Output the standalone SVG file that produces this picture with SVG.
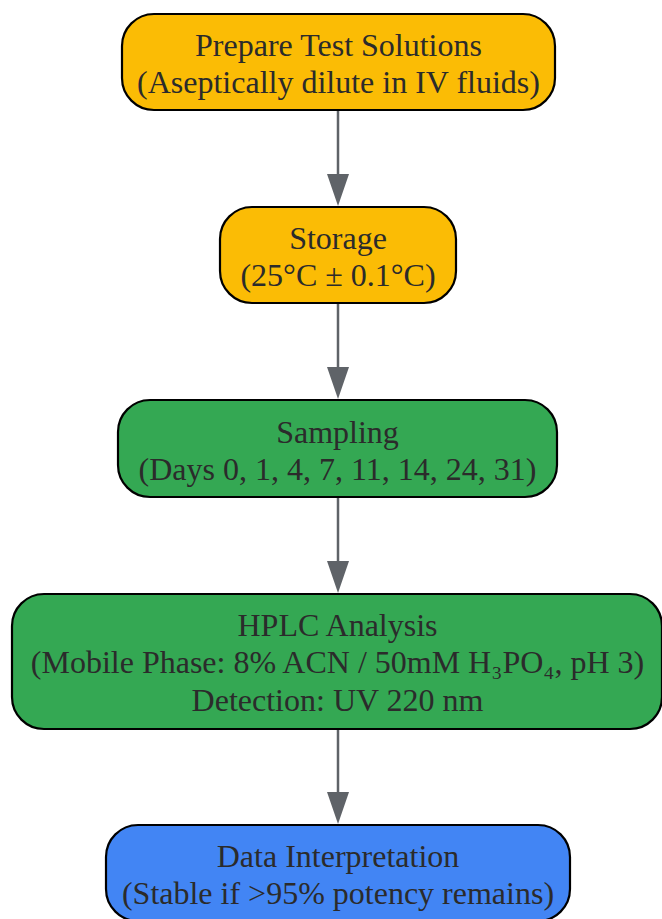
<svg xmlns="http://www.w3.org/2000/svg" width="662" height="919" viewBox="0 0 662 919">
<defs>
<style>
.box{stroke:#000;stroke-width:2.2}
.y{fill:#FBBC05}.g{fill:#34A853}.b{fill:#4285F4}
text{font-family:"Liberation Serif","Times New Roman",serif;font-size:32px;fill:#2b2b2b;text-anchor:middle}
.edge{stroke:#5f6368;stroke-width:2.5;fill:none}
.head{fill:#5f6368}
</style>
</defs>
<rect width="662" height="919" fill="#fff"/>
<g id="connectors">
<line class="edge" x1="338" y1="111" x2="338" y2="176"/><polygon class="head" points="327,174 349,174 338,206"/>
<line class="edge" x1="338" y1="304" x2="338" y2="369"/><polygon class="head" points="327,367 349,367 338,399"/>
<line class="edge" x1="338" y1="498" x2="338" y2="563"/><polygon class="head" points="327,561 349,561 338,593"/>
<line class="edge" x1="338" y1="730" x2="338" y2="794"/><polygon class="head" points="327,792 349,792 338,824"/>
</g>
<g id="prepare">
<rect class="box y" x="122" y="14" width="433" height="96" rx="32"/>
<text x="338.5" y="56">Prepare Test Solutions</text>
<text x="338.5" y="93">(Aseptically dilute in IV fluids)</text>
</g>
<g id="storage">
<rect class="box y" x="220" y="207" width="236" height="96" rx="32"/>
<text x="338" y="249">Storage</text>
<text x="338" y="286">(25°C ± 0.1°C)</text>
</g>
<g id="sampling">
<rect class="box g" x="118" y="400" width="439" height="97" rx="32"/>
<text x="337.5" y="443">Sampling</text>
<text x="337.5" y="480">(Days 0, 1, 4, 7, 11, 14, 24, 31)</text>
</g>
<g id="hplc">
<rect class="box g" x="12" y="594" width="650" height="135" rx="32"/>
<text x="337.5" y="636">HPLC Analysis</text>
<text x="337.5" y="673">(Mobile Phase: 8% ACN / 50mM H₃PO₄, pH 3)</text>
<text x="337.5" y="711">Detection: UV 220 nm</text>
</g>
<g id="interpretation">
<rect class="box b" x="106" y="825" width="464" height="96" rx="32"/>
<text x="338" y="867">Data Interpretation</text>
<text x="338" y="904">(Stable if &gt;95% potency remains)</text>
</g>
</svg>
